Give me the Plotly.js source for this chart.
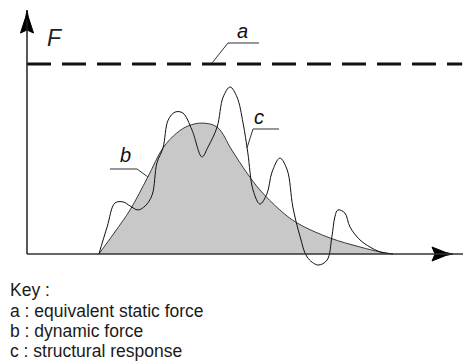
<!DOCTYPE html>
<html>
<head>
<meta charset="utf-8">
<script src="https://cdn.plot.ly/plotly-3.0.1.min.js"></script>
<style>html,body{margin:0;padding:0;background:#fff;}#chart{width:469px;height:363px;}</style>
</head>
<body>
<div id="chart"></div>
<script>
// ---- data (time in arbitrary units, force in % of static force) ----
const staticT = [0, 100.5];
const staticF = [100, 100];

const dynT = [16.6, 20.3, 23.8, 27.9, 31.4, 34.6, 37.2, 40.4, 43.9, 47.3, 50.8, 53.8, 58.4, 62.4, 70.0, 76.9, 81.5, 84.5];
const dynF = [0, 11.6, 23.2, 40.5, 55.8, 63.7, 67.4, 68.9, 66.8, 54.7, 42.6, 33.7, 23.2, 16.3, 8.4, 3.7, 1.1, 0];

const respT = [16.6, 18.5, 20.3, 22.2, 23.8, 25.6, 27.3, 28.9, 30.0, 31.4, 32.6, 34.2, 36.0, 38.1, 40.4, 41.8, 43.9, 45.3, 46.9, 48.5, 49.9, 51.0, 52.2, 53.8, 55.4, 56.6, 58.4, 60.1, 61.4, 63.1, 64.7, 67.2, 69.3, 70.4, 71.1, 71.8, 73.4, 74.6, 76.9, 79.2, 81.5, 84.5];
const respF = [0, 14.2, 26.8, 27.4, 25.3, 23.2, 25.3, 31.1, 47.9, 55.8, 70.5, 74.7, 74.2, 65.3, 51.1, 56.3, 66.8, 82.6, 87.9, 82.6, 68.9, 53.2, 33.7, 26.3, 31.6, 43.2, 50.5, 44.2, 24.7, 8.9, -1.6, -5.8, -3.2, 8.9, 19.5, 23.2, 21.6, 14.2, 7.4, 3.7, 1.1, 0];

const keyLines = ["Key :", "a : equivalent static force", "b : dynamic force", "c : structural response"];
const curveLabels = ["a", "b", "c"];

// ---- layout geometry helpers (pixel -> axis / paper units) ----
const ML = 20, MR = 4, MT = 8, MB = 93, W = 469, H = 363;
const PX0 = 27, PY0 = 254, KX = 4.33, KY = 1.9;
const X = px => (px - PX0) / KX;
const Y = py => (PY0 - py) / KY;
const xr = [X(ML), X(W - MR)];
const yr = [Y(H - MB), Y(MT)];
const PX = px => (px - ML) / (W - ML - MR);
const PY = py => (H - MB - py) / (H - MB - MT);

function ppath(pts, close) {
  return pts.map((p, i) => (i ? 'L' : 'M') + PX(p[0]).toFixed(4) + ',' + PY(p[1]).toFixed(4)).join(' ') + (close ? ' Z' : '');
}
function arrowHead(pts) {
  return {x: pts.map(p => X(p[0])), y: pts.map(p => Y(p[1])), type: 'scatter', mode: 'lines',
    fill: 'toself', fillcolor: '#000', line: {color: '#000', width: 1}, hoverinfo: 'skip', cliponaxis: false};
}

const traces = [
  {x: dynT, y: dynF, type: 'scatter', mode: 'lines', fill: 'tozeroy',
   fillcolor: '#c8c8c8', line: {color: '#3a3a3a', width: 1, shape: 'spline', smoothing: 1}, hoverinfo: 'skip'},
  {x: respT, y: respF, type: 'scatter', mode: 'lines',
   line: {color: '#111', width: 1, shape: 'spline', smoothing: 1}, hoverinfo: 'skip'},
  {x: staticT, y: staticF, type: 'scatter', mode: 'lines',
   line: {color: '#111', width: 3, dash: '24px,11px'}, hoverinfo: 'skip'},
  arrowHead([[27, 10], [28.3, 17], [33.5, 33], [27, 30], [20.5, 33], [25.7, 17], [27, 10]]),
  arrowHead([[453, 254], [446, 255.4], [432, 261], [435, 254], [432, 247], [446, 252.6], [453, 254]])
];

const lineStyle = {color: '#333', width: 1};
const P = {type: 'path', xref: 'paper', yref: 'paper', layer: 'above'};
const shapes = [
  Object.assign({}, P, {path: ppath([[27, 254], [463, 254]]), line: {color: '#333', width: 1.5}}),
  Object.assign({}, P, {path: ppath([[27, 254], [27, 20]]), line: {color: '#222', width: 1.5}}),
  Object.assign({}, P, {path: ppath([[212, 63], [228, 43], [259, 43]]), line: lineStyle}),
  Object.assign({}, P, {path: ppath([[148, 177], [137, 169], [110, 169]]), line: lineStyle}),
  Object.assign({}, P, {path: ppath([[247, 148], [253, 129], [279, 129]]), line: lineStyle})
];

const labelPos = [[242, 31], [125, 155], [259, 117]];
const annotations = curveLabels.map((t, i) => ({
  text: t, xref: 'x', yref: 'y', x: X(labelPos[i][0]), y: Y(labelPos[i][1]),
  showarrow: false, font: {family: 'Liberation Sans, Arial, sans-serif', size: 20, color: '#111', style: 'italic'}
}));
annotations.push({
  text: 'F', xref: 'paper', yref: 'paper', x: PX(45), y: PY(23), showarrow: false,
  font: {family: 'Liberation Sans, Arial, sans-serif', size: 23, color: '#222', style: 'italic'}
});
const keyY = [290, 311, 331, 351];
keyLines.forEach((t, i) => annotations.push({
  text: t, xref: 'paper', yref: 'paper', x: PX(8), y: PY(keyY[i]), xanchor: 'left', yanchor: 'middle',
  showarrow: false, align: 'left', font: {family: 'Liberation Sans, Arial, sans-serif', size: 17.5, color: '#1a1a1a'}
}));

const layout = {
  width: W, height: H, margin: {l: ML, r: MR, t: MT, b: MB, pad: 0},
  paper_bgcolor: '#fff', plot_bgcolor: '#fff', showlegend: false,
  xaxis: {range: xr, visible: false, fixedrange: true},
  yaxis: {range: yr, visible: false, fixedrange: true},
  shapes: shapes, annotations: annotations
};

Plotly.newPlot('chart', traces, layout, {staticPlot: true, displayModeBar: false});
</script>
</body>
</html>
